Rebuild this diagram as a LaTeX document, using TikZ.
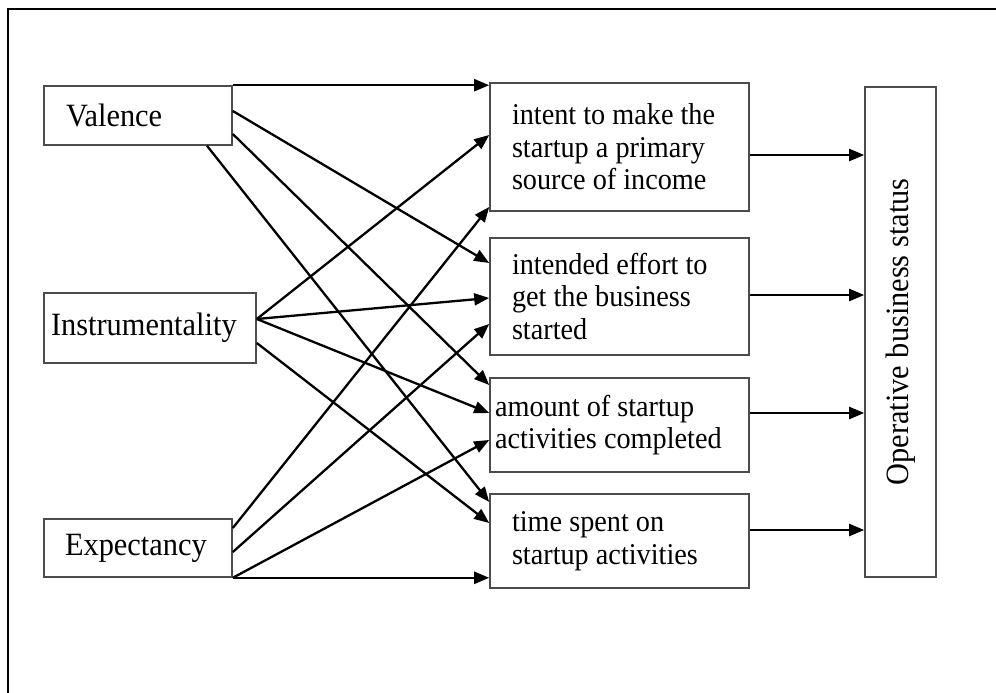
\documentclass[tikz,border=0pt]{standalone}
\usepackage{fontspec}
\setmainfont{Liberation Serif}
\newfontfamily\narrowserif[FakeStretch=0.935]{Liberation Serif}
\usetikzlibrary{arrows.meta}
\begin{document}
\begin{tikzpicture}[x=1pt,y=-1pt,
  box/.style={draw=black!70, line width=1.6pt, rectangle, inner ysep=0pt, align=flush left},
  link/.style={line width=2.3pt, draw=black, -{Triangle[length=15pt,width=12pt]}},
  bigfont/.style={font=\narrowserif\fontsize{32.5}{36}\selectfont},
  midfont/.style={font=\narrowserif\fontsize{30.2}{32.5}\selectfont}]
\useasboundingbox (0,0) rectangle (996,693);
% frame
\draw[line width=2.2pt] (8,693) -- (8,9) -- (996,9);

% factors
\node[box,bigfont,minimum height=59pt,text width=144pt,inner xsep=22pt] (val) at (138,115.5) {Valence};
\node[box,bigfont,minimum height=70pt,text width=198pt,inner xsep=7pt] (ins) at (150,328) {Instrumentality};
\node[box,bigfont,minimum height=58pt,text width=146pt,inner xsep=21pt] (exp) at (138,548) {Expectancy};

% intentions and activities
\node[box,midfont,minimum height=128pt,text width=215pt,inner xsep=22pt] (b1) at (619.5,147) {intent to make the\\startup a primary\\source of income};
\node[box,midfont,minimum height=117pt,text width=215pt,inner xsep=22pt] (b2) at (619.5,296.5) {intended effort to\\get the business\\started};
\node[box,midfont,minimum height=94pt,text width=249pt,inner xsep=5pt] (b3) at (619.5,425) {amount of startup\\activities completed};
\node[box,midfont,minimum height=94pt,text width=215pt,inner xsep=22pt] (b4) at (619.5,541) {time spent on\\startup activities};

% outcome
\node[box,minimum width=71pt,minimum height=490pt] (obs) at (900.5,332) {};
\node[bigfont,rotate=90] (obslabel) at (obs.center) {Operative business status};

% valence links
\draw[link] (val.north east) -- (b1.west |- val.north east);
\draw[link] (val.east |- 0,111) -- (b2.west |- 0,263);
\draw[link] (val.east |- 0,134) -- (b3.west |- 0,385);
\draw[link] (207,0 |- val.south) -- (b4.west |- 0,502);

% instrumentality links
\draw[link] (ins.east |- 0,319) -- (b1.west |- 0,135);
\draw[link] (ins.east |- 0,319) -- (b2.west |- 0,298);
\draw[link] (ins.east |- 0,319) -- (b3.west |- 0,413);
\draw[link] (ins.east |- 0,343) -- (b4.west |- 0,523);

% expectancy links
\draw[link] (exp.east |- 0,528) -- (b1.west |- 0,207);
\draw[link] (exp.east |- 0,552) -- (b2.west |- 0,324);
\draw[link] (exp.south east) -- (b3.west |- 0,440);
\draw[link] (exp.south east) -- (b4.west |- exp.south east);

% outcome links
\draw[link] (b1.east |- 0,155) -- (obs.west |- 0,155);
\draw[link] (b2.east |- 0,295) -- (obs.west |- 0,295);
\draw[link] (b3.east |- 0,413) -- (obs.west |- 0,413);
\draw[link] (b4.east |- 0,530) -- (obs.west |- 0,530);
\end{tikzpicture}
\end{document}
